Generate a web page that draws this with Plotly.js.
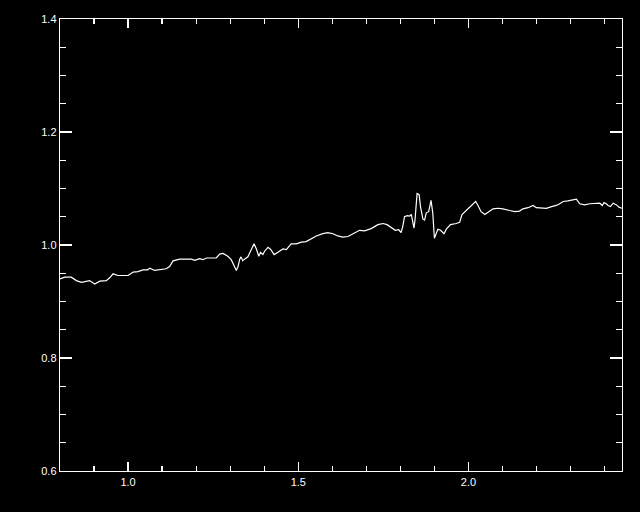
<!DOCTYPE html>
<html>
<head>
<meta charset="utf-8">
<script src="https://cdn.plot.ly/plotly-3.0.1.min.js"></script>
<style>html,body{margin:0;padding:0;background:#000;}#chart{width:640px;height:512px;}</style>
</head>
<body>
<div id="chart"></div>
<script>
// Wavelength (x) and normalised flux (y)
var wavelength = [
  0.800, 0.814, 0.833, 0.848, 0.863, 0.873, 0.887, 0.902, 0.917, 0.936,
  0.946, 0.956, 0.970, 1.000, 1.015, 1.029, 1.044, 1.057, 1.064, 1.078,
  1.093, 1.112, 1.122, 1.132, 1.152, 1.186, 1.196, 1.210, 1.220, 1.230,
  1.259, 1.269, 1.279, 1.293, 1.303, 1.313, 1.318, 1.323, 1.328, 1.332,
  1.337, 1.342, 1.352, 1.362, 1.370, 1.377, 1.384, 1.389, 1.396, 1.401,
  1.411, 1.419, 1.429, 1.440, 1.455, 1.465, 1.479, 1.494, 1.509, 1.523,
  1.538, 1.553, 1.572, 1.587, 1.602, 1.616, 1.631, 1.646, 1.661, 1.680,
  1.695, 1.714, 1.734, 1.749, 1.761, 1.773, 1.785, 1.795, 1.802, 1.807,
  1.812, 1.820, 1.827, 1.832, 1.840, 1.843, 1.849, 1.855, 1.859, 1.866,
  1.871, 1.876, 1.883, 1.890, 1.895, 1.900, 1.905, 1.910, 1.918, 1.928,
  1.935, 1.947, 1.964, 1.974, 1.981, 1.993, 2.003, 2.013, 2.021, 2.028,
  2.037, 2.048, 2.057, 2.072, 2.087, 2.101, 2.121, 2.136, 2.150, 2.160,
  2.175, 2.190, 2.199, 2.214, 2.229, 2.244, 2.258, 2.268, 2.278, 2.292,
  2.307, 2.317, 2.327, 2.341, 2.356, 2.371, 2.386, 2.393, 2.398, 2.405,
  2.410, 2.417, 2.425, 2.435, 2.442, 2.451
];
var flux = [
  0.940, 0.943, 0.943, 0.937, 0.934, 0.935, 0.937, 0.931, 0.936, 0.937,
  0.942, 0.949, 0.946, 0.946, 0.952, 0.953, 0.956, 0.956, 0.959, 0.955,
  0.956, 0.958, 0.962, 0.972, 0.975, 0.975, 0.973, 0.976, 0.974, 0.977,
  0.977, 0.984, 0.985, 0.980, 0.974, 0.959, 0.955, 0.962, 0.975, 0.979,
  0.972, 0.975, 0.979, 0.992, 1.002, 0.993, 0.980, 0.987, 0.983, 0.989,
  0.996, 0.992, 0.983, 0.987, 0.993, 0.992, 1.002, 1.002, 1.005, 1.006,
  1.011, 1.016, 1.020, 1.022, 1.020, 1.016, 1.014, 1.015, 1.020, 1.026,
  1.025, 1.029, 1.036, 1.038, 1.036, 1.031, 1.026, 1.027, 1.022, 1.033,
  1.050, 1.052, 1.051, 1.054, 1.030, 1.045, 1.091, 1.089, 1.068, 1.046,
  1.044, 1.057, 1.059, 1.079, 1.057, 1.012, 1.021, 1.028, 1.026, 1.020,
  1.028, 1.036, 1.038, 1.040, 1.054, 1.061, 1.068, 1.073, 1.077, 1.070,
  1.059, 1.054, 1.058, 1.064, 1.065, 1.064, 1.061, 1.059, 1.060, 1.064,
  1.066, 1.070, 1.066, 1.065, 1.065, 1.068, 1.070, 1.073, 1.077, 1.078,
  1.080, 1.081, 1.073, 1.071, 1.073, 1.073, 1.074, 1.070, 1.075, 1.073,
  1.070, 1.068, 1.074, 1.071, 1.067, 1.065
];
var xRange = [0.8, 2.451];
var yRange = [0.6, 1.4];

var axisFont = {family: 'Liberation Sans, Arial, sans-serif', size: 11, color: '#ffffff'};

var trace = {
  x: wavelength, y: flux, type: 'scatter', mode: 'lines',
  line: {color: '#ffffff', width: 1.2}, hoverinfo: 'skip'
};

var layout = {
  width: 640, height: 512,
  paper_bgcolor: '#000000', plot_bgcolor: '#000000',
  margin: {l: 60, r: 18, t: 19, b: 41, pad: 0},
  showlegend: false,
  font: axisFont,
  xaxis: {
    range: xRange, showgrid: false, zeroline: false,
    showline: true, linecolor: '#ffffff', linewidth: 1.3, mirror: 'allticks',
    ticks: 'inside', ticklen: 9, tickwidth: 1.3, tickcolor: '#ffffff',
    dtick: 0.5, tick0: 0, tickformat: '.1f', tickfont: axisFont,
    minor: {dtick: 0.1, tick0: 0, ticks: 'inside', ticklen: 5, tickwidth: 1.3, tickcolor: '#ffffff', showgrid: false}
  },
  yaxis: {
    range: yRange, showgrid: false, zeroline: false,
    showline: true, linecolor: '#ffffff', linewidth: 1.3, mirror: 'allticks',
    ticks: 'inside', ticklen: 12, tickwidth: 1.3, tickcolor: '#ffffff',
    dtick: 0.2, tick0: 0, tickformat: '.1f', tickfont: axisFont,
    minor: {dtick: 0.05, tick0: 0, ticks: 'inside', ticklen: 6, tickwidth: 1.3, tickcolor: '#ffffff', showgrid: false}
  }
};

Plotly.newPlot('chart', [trace], layout, {staticPlot: true, displayModeBar: false});
</script>
</body>
</html>
